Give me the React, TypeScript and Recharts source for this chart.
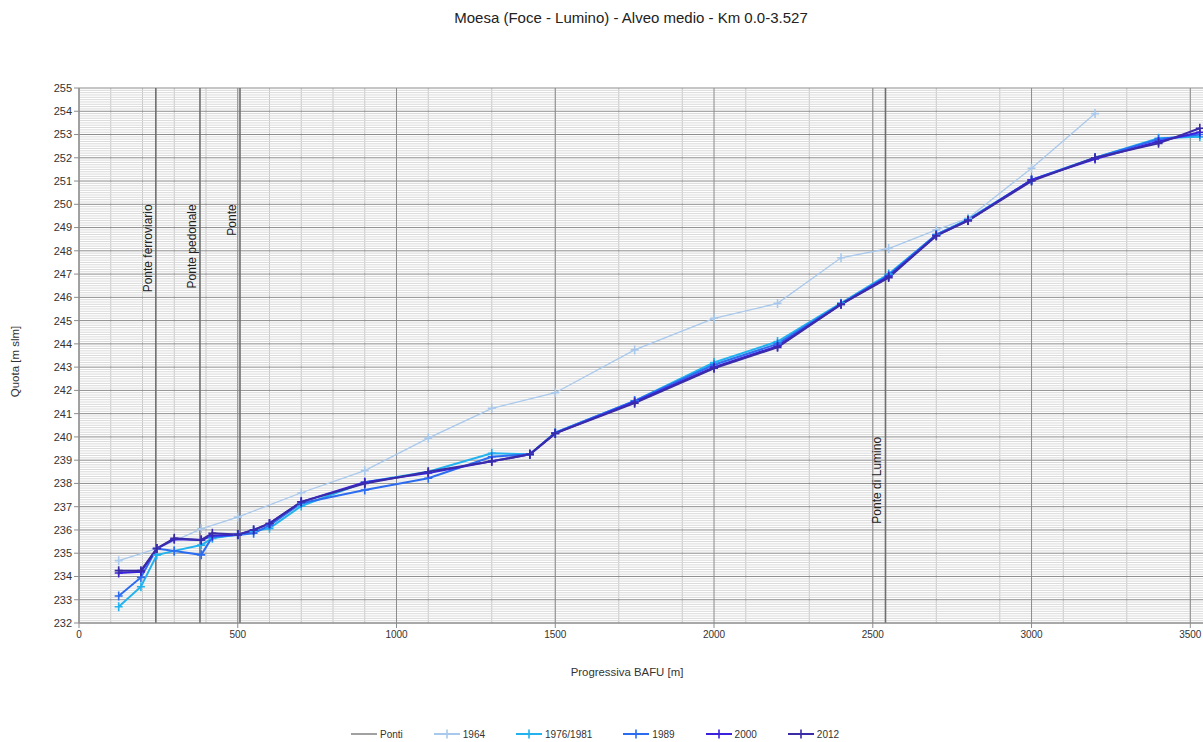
import {
  LineChart,
  Line,
  XAxis,
  YAxis,
  CartesianGrid,
  ReferenceLine
} from "recharts";

// progressive distance (m) of each surveyed cross-section
const x1964 = [125, 245, 385, 500, 700, 900, 1100, 1300, 1500, 1750, 2000, 2200, 2400, 2550, 2700, 2800, 3000, 3200];
const xSurvey = [125, 195, 245, 300, 385, 420, 500, 550, 600, 700, 900, 1100, 1300, 1420, 1500, 1750, 2000, 2200, 2400, 2550, 2700, 2800, 3000, 3200, 3400, 3530];

// mean bed elevation (m slm)
const y1964 = [234.68, 235.2, 236.05, 236.55, 237.6, 238.55, 239.95, 241.23, 241.9, 243.74, 245.1, 245.74, 247.7, 248.1, 248.9, 249.4, 251.55, 253.9];
const y1976 = [232.7, 233.56, 234.92, 235.1, 235.35, 235.64, 235.8, 235.95, 236.07, 237.03, 238.05, 238.5, 239.3, 239.25, 240.18, 241.55, 243.2, 244.1, 245.75, 247.0, 248.7, 249.35, 251.05, 252.0, 252.84, 252.9];
const y1989 = [233.16, 233.96, 235.2, 235.1, 234.93, 235.7, 235.78, 235.86, 236.2, 237.15, 237.72, 238.22, 239.15, 239.25, 240.18, 241.55, 243.1, 244.0, 245.72, 246.95, 248.7, 249.33, 251.05, 252.0, 252.8, 253.0];
const y2000 = [234.15, 234.2, 235.2, 235.6, 235.57, 235.75, 235.8, 236.0, 236.28, 237.21, 238.05, 238.45, 238.95, 239.25, 240.15, 241.5, 243.0, 243.9, 245.7, 246.9, 248.65, 249.3, 251.05, 251.95, 252.7, 253.1];
const y2012 = [234.25, 234.25, 235.2, 235.64, 235.57, 235.86, 235.8, 236.0, 236.28, 237.21, 238.0, 238.5, 238.95, 239.25, 240.15, 241.45, 242.95, 243.85, 245.7, 246.85, 248.65, 249.3, 251.0, 252.0, 252.62, 253.27];

// bridges
const bridgeX = [242, 381, 507, 2540];
const bridgeNames = ["Ponte ferroviario", "Ponte pedonale", "Ponte", "Ponte di Lumino"];
const bridgeLabelAt = [250, 250, 250, 240];

const xTicks = [0, 500, 1000, 1500, 2000, 2500, 3000, 3500];
const yTicks = [232, 233, 234, 235, 236, 237, 238, 239, 240, 241, 242, 243, 244, 245, 246, 247, 248, 249, 250, 251, 252, 253, 254, 255];

const Y_MIN = 232;
const Y_MAX = 255;

const minorX: number[] = [];
for (let v = 0; v <= 3500; v += 100) minorX.push(v);
const minorY: number[] = [];
for (let i = Y_MIN * 10; i <= Y_MAX * 10; i++) if (i % 10 !== 0) minorY.push(i / 10);

const pts = (xs: number[], ys: number[]) => xs.map((x, i) => ({ x, y: ys[i] }));

const series = [
  { name: "1964", color: "#a9c9ec", width: 1.3, data: pts(x1964, y1964) },
  { name: "1976/1981", color: "#22b2ee", width: 2, data: pts(xSurvey, y1976) },
  { name: "1989", color: "#2c6cf0", width: 2, data: pts(xSurvey, y1989) },
  { name: "2000", color: "#3a22dd", width: 2, data: pts(xSurvey, y2000) },
  { name: "2012", color: "#3a2ca6", width: 2, data: pts(xSurvey, y2012) }
];

const FONT = "'Liberation Sans', Arial, sans-serif";

const crossDot = (color: string) => (p: any) => {
  const { cx, cy, index } = p;
  if (cx == null || cy == null) return <g key={index} />;
  return (
    <path
      key={index}
      d={`M${cx - 4},${cy}H${cx + 4}M${cx},${cy - 4.5}V${cy + 4.5}`}
      stroke={color}
      strokeWidth={1.6}
      fill="none"
    />
  );
};

const BridgeLabel = ({ viewBox, text, at }: any) => {
  if (!viewBox) return null;
  const x = viewBox.x - 4;
  const y = viewBox.y + ((Y_MAX - at) / (Y_MAX - Y_MIN)) * viewBox.height;
  return (
    <text
      x={x}
      y={y}
      transform={`rotate(-90 ${x} ${y})`}
      textAnchor="end"
      fontSize={12}
      fill="#222"
      fontFamily={FONT}
    >
      {text}
    </text>
  );
};

const legendItems = [{ name: "Ponti", color: "#8a8a8a", cross: false }].concat(
  series.map((s) => ({ name: s.name, color: s.color, cross: true }))
);

export default function App() {
  return (
    <div style={{ position: "absolute", left: 0, top: 0, width: 1203, height: 742, background: "#fff", fontFamily: FONT }}>
      <div
        style={{
          position: "absolute",
          top: 9,
          left: 0,
          width: 1262,
          textAlign: "center",
          fontSize: 15,
          color: "#222"
        }}
      >
        Moesa (Foce - Lumino) - Alveo medio - Km 0.0-3.527
      </div>
      <LineChart width={1203} height={742} margin={{ top: 88, right: 0, bottom: 63, left: 0 }}>
        <CartesianGrid horizontal={false} verticalValues={minorX} stroke="#c4c4c4" strokeWidth={1} />
        {minorY.map((v) => (
          <ReferenceLine key={`m${v}`} y={v} stroke="#dadada" strokeWidth={1} />
        ))}
        {yTicks.map((v) => (
          <ReferenceLine key={`gy${v}`} y={v} stroke="#8c8c8c" strokeWidth={1} />
        ))}
        {xTicks.map((v) => (
          <ReferenceLine key={`gx${v}`} x={v} stroke="#8c8c8c" strokeWidth={1} />
        ))}
        <XAxis
          dataKey="x"
          type="number"
          domain={[0, 3540]}
          ticks={xTicks}
          allowDataOverflow
          height={56}
          tickSize={5}
          tickMargin={3}
          stroke="#8c8c8c"
          tick={{ fontSize: 10, fill: "#333", fontFamily: FONT }}
          label={{
            value: "Progressiva BAFU [m]",
            position: "insideBottom",
            offset: 3,
            dx: -14,
            fontSize: 11.4,
            fill: "#333",
            fontFamily: FONT
          }}
        />
        <YAxis
          type="number"
          domain={[Y_MIN, Y_MAX]}
          ticks={yTicks}
          allowDataOverflow
          width={79}
          tickSize={5}
          tickMargin={2}
          stroke="#8c8c8c"
          tick={{ fontSize: 11, fill: "#333", fontFamily: FONT }}
          label={{
            content: (p: any) => {
              const vb = p.viewBox || { y: 88, height: 535 };
              const cx = 15;
              const cy = vb.y + vb.height / 2 + 6;
              return (
                <text
                  x={cx}
                  y={cy}
                  transform={`rotate(-90 ${cx} ${cy})`}
                  textAnchor="middle"
                  dominantBaseline="central"
                  fontSize={11.5}
                  fill="#333"
                  fontFamily={FONT}
                >
                  Quota [m slm]
                </text>
              );
            }
          }}
        />
        {bridgeX.map((bx, i) => (
          <ReferenceLine
            key={`b${i}`}
            x={bx}
            stroke="#6e6e6e"
            strokeWidth={1.6}
            label={<BridgeLabel text={bridgeNames[i]} at={bridgeLabelAt[i]} />}
          />
        ))}
        {series.map((s) => (
          <Line
            key={s.name}
            data={s.data}
            dataKey="y"
            name={s.name}
            type="linear"
            stroke={s.color}
            strokeWidth={s.width}
            dot={crossDot(s.color)}
            activeDot={false}
            isAnimationActive={false}
          />
        ))}
      </LineChart>
      <div
        style={{
          position: "absolute",
          top: 728,
          left: 351,
          display: "flex",
          alignItems: "center",
          fontSize: 10,
          color: "#333",
          whiteSpace: "nowrap"
        }}
      >
        {legendItems.map((it) => (
          <div key={it.name} style={{ display: "flex", alignItems: "center", marginRight: 31 }}>
            <svg width={26} height={12} style={{ marginRight: 3 }}>
              <line x1={0} y1={6} x2={26} y2={6} stroke={it.color} strokeWidth={it.cross ? 2 : 1.6} />
              {it.cross && <path d="M13,1.5V10.5" stroke={it.color} strokeWidth={1.6} />}
            </svg>
            <span>{it.name}</span>
          </div>
        ))}
      </div>
    </div>
  );
}
